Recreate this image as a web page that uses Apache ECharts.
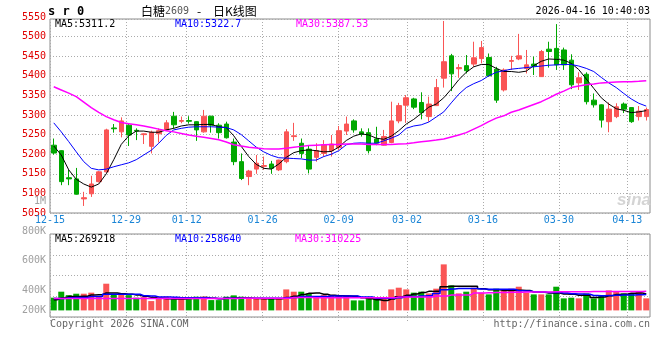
<!DOCTYPE html>
<html><head><meta charset="utf-8">
<script src="https://cdn.jsdelivr.net/npm/echarts@6/dist/echarts.min.js"></script>
<style>html,body{margin:0;padding:0;background:#fff}#c{width:660px;height:360px}</style>
</head><body><div id="c"></div>
<script>
const dates = ['12-15','12-16','12-17','12-18','12-19','12-22','12-23','12-24','12-25','12-26',
 '12-29','12-30','12-31','01-05','01-06','01-07','01-08','01-09','01-12','01-13',
 '01-14','01-15','01-16','01-19','01-20','01-21','01-22','01-23','01-26','01-27',
 '01-28','01-29','01-30','02-02','02-03','02-04','02-05','02-06','02-09','02-10',
 '02-11','02-12','02-13','02-24','02-25','02-26','02-27','03-02','03-03','03-04',
 '03-05','03-06','03-09','03-10','03-11','03-12','03-13','03-16','03-17','03-18',
 '03-19','03-20','03-23','03-24','03-25','03-26','03-27','03-30','03-31','04-01',
 '04-02','04-03','04-07','04-08','04-09','04-10','04-13','04-14','04-15','04-16'];
const tickLabels = ['12-15','12-29','01-12','01-26','02-09','03-02','03-16','03-30','04-13'];
const priceTicks = {min:5050, max:5550, step:50};
const volTickValues = [200000,400000,600000,800000,1000000];
const volTickLabels = ['200K','400K','600K','800K','1M'];

const openP = [5223,5209,5140,5137,5086,5099,5130,5155,5267,5257,
 5274,5261,5250,5220,5252,5262,5297,5284,5286,5283,
 5257,5297,5274,5277,5231,5181,5143,5162,5169,5175,
 5160,5181,5245,5228,5213,5192,5202,5209,5217,5259,
 5285,5257,5255,5239,5223,5230,5285,5325,5341,5332,
 5296,5324,5394,5451,5418,5426,5430,5444,5447,5417,
 5364,5437,5443,5419,5430,5398,5468,5470,5466,5440,
 5382,5404,5338,5326,5283,5296,5328,5319,5296,5296];
const closeP = [5203,5130,5137,5098,5089,5124,5155,5262,5265,5285,
 5249,5259,5252,5256,5260,5280,5275,5286,5284,5262,
 5297,5274,5255,5242,5181,5138,5157,5177,5171,5164,
 5185,5257,5247,5202,5162,5209,5224,5226,5260,5277,
 5262,5251,5209,5228,5245,5285,5324,5344,5320,5306,
 5328,5370,5436,5405,5421,5413,5446,5472,5400,5338,
 5415,5439,5451,5428,5425,5462,5462,5428,5428,5377,
 5395,5334,5326,5287,5315,5321,5315,5283,5310,5314];
const lowP = [5199,5121,5121,5097,5068,5091,5128,5153,5255,5243,
 5221,5236,5226,5202,5230,5261,5266,5279,5278,5234,
 5255,5255,5240,5240,5172,5134,5121,5150,5160,5150,
 5157,5177,5234,5190,5151,5181,5194,5194,5211,5249,
 5255,5245,5202,5223,5222,5228,5279,5280,5315,5289,
 5283,5323,5370,5361,5395,5406,5423,5432,5398,5331,
 5360,5415,5440,5406,5402,5397,5421,5415,5415,5366,
 5364,5327,5319,5268,5256,5292,5305,5280,5286,5286];
const highP = [5240,5210,5160,5165,5104,5145,5157,5265,5277,5294,
 5279,5266,5253,5260,5266,5287,5308,5296,5297,5284,
 5313,5298,5279,5283,5240,5202,5160,5198,5194,5183,
 5186,5264,5280,5240,5221,5228,5236,5249,5272,5296,
 5289,5266,5266,5270,5262,5334,5331,5351,5344,5358,
 5347,5392,5540,5456,5430,5453,5487,5489,5457,5423,
 5419,5451,5507,5466,5449,5466,5487,5532,5472,5455,
 5409,5409,5355,5327,5332,5330,5332,5319,5323,5319];
const volume = [207000,305000,249000,272000,272000,289000,233000,435000,261000,261000,
 249000,207000,217000,152000,196000,223000,196000,196000,196000,223000,
 223000,168000,168000,223000,245000,223000,217000,196000,196000,196000,
 196000,342000,305000,305000,272000,223000,249000,249000,249000,249000,
 163000,163000,196000,196000,196000,342000,370000,342000,289000,305000,
 277000,354000,750000,408000,277000,305000,370000,289000,261000,354000,
 326000,354000,386000,289000,261000,261000,261000,386000,196000,207000,
 196000,277000,196000,249000,326000,305000,277000,277000,305000,196000];
const ma5 = [5221,5198,5160,5136,5124,5116,5124,5150,5186,5225,
 5247,5259,5259,5256,5256,5262,5266,5272,5275,5275,
 5276,5276,5270,5268,5247,5220,5194,5174,5164,5162,
 5175,5192,5204,5209,5211,5209,5206,5207,5218,5235,
 5246,5252,5249,5241,5238,5246,5260,5277,5289,5304,
 5320,5328,5344,5366,5390,5409,5423,5429,5429,5419,
 5411,5411,5409,5412,5426,5437,5443,5442,5440,5432,
 5416,5392,5368,5344,5328,5316,5312,5306,5308,5311.2];
const ma10 = [5280,5257,5232,5206,5181,5164,5160,5162,5168,5173,
 5178,5186,5198,5210,5228,5248,5262,5266,5269,5270,
 5270,5270,5269,5268,5262,5250,5234,5218,5206,5197,
 5191,5190,5189,5188,5185,5185,5194,5200,5209,5224,
 5228,5229,5228,5228,5234,5241,5249,5266,5272,5275,
 5282,5295,5308,5331,5353,5370,5380,5388,5400,5409,
 5413,5417,5419,5421,5423,5425,5427,5428,5429,5429,
 5425,5419,5411,5396,5382,5370,5355,5341,5330,5322.7];
const ma30 = [5372,5364,5356,5347,5333,5319,5307,5296,5288,5281,
 5278,5275,5272,5268,5264,5260,5257,5253,5249,5246,
 5243,5240,5237,5231,5224,5221,5218,5216,5214,5213,
 5213,5215,5218,5220,5222,5223,5224,5225,5225,5226,
 5226,5226,5225,5225,5225,5225,5226,5227,5229,5232,
 5234,5236,5239,5244,5249,5255,5264,5273,5283,5292,
 5298,5307,5313,5320,5327,5334,5343,5353,5361,5370,
 5374,5377,5379,5382,5383,5384,5385,5385,5386,5387.53];
const vma5 = [175000,200000,225000,228000,232000,250000,255000,285000,285000,270000,
 265000,250000,230000,212000,200000,188000,185000,185000,195000,208000,
 210000,198000,188000,198000,202000,204000,198000,192000,188000,188000,
 190000,212000,232000,258000,278000,282000,262000,245000,240000,235000,
 230000,205000,190000,172000,162000,185000,222000,245000,268000,290000,
 310000,312000,385000,392000,392000,392000,392000,352000,335000,335000,
 325000,325000,330000,325000,300000,295000,285000,285000,268000,262000,
 248000,248000,212000,218000,240000,260000,262000,278000,285000,269218];
const vma10 = [192000,192000,208000,210000,212000,225000,228000,262000,262000,262000,
 262000,262000,238000,236000,220000,220000,215000,208000,208000,208000,
 208000,198000,192000,196000,196000,196000,196000,196000,196000,196000,
 196000,207000,210000,225000,225000,225000,225000,236000,236000,236000,
 236000,220000,220000,198000,198000,198000,208000,225000,225000,236000,
 240000,275000,335000,350000,355000,355000,355000,350000,345000,345000,
 345000,345000,320000,316000,305000,300000,292000,290000,285000,272000,
 266000,262000,242000,240000,242000,248000,250000,250000,255000,258640];
const vma30 = [192000,192000,192000,192000,192000,194000,194000,194000,194000,194000,
 194000,194000,194000,194000,194000,194000,194000,194000,194000,194000,
 194000,194000,194000,194000,194000,196000,196000,196000,196000,196000,
 196000,198000,210000,212000,212000,208000,208000,208000,208000,208000,
 208000,208000,208000,208000,208000,208000,218000,218000,218000,218000,
 218000,234000,234000,250000,250000,250000,282000,285000,287000,290000,
 292000,294000,296000,298000,299000,300000,301000,302000,303000,304000,
 305000,305000,306000,306000,307000,307000,308000,308000,309000,310225];

const mono = 'DejaVu Sans Mono';
const upColor = '#fa5555', downColor = '#00a800';
const gridColor = '#ababab', frameColor = '#8c8c8c';
const dot = {color: gridColor, type: [1, 2], width: 1};
const isLabel = (i) => tickLabels.indexOf(dates[i]) >= 0;
const last = (a) => a[a.length - 1];

const kData = dates.map((d, i) => [openP[i], closeP[i], lowP[i], highP[i]]);
const volData = volume.map((v, i) => ({value: v, itemStyle: {color: closeP[i] >= openP[i] ? upColor : downColor}}));

function txt(text, x, y, fill, font, align) {
  return {type: 'text', x: x, y: y, z: 100, silent: true,
    style: {text: text, fill: fill, font: font, align: align || 'left', verticalAlign: 'middle'}};
}

const chart = echarts.init(document.getElementById('c'));
chart.setOption({
  animation: false,
  backgroundColor: '#fff',
  grid: [
    {left: 50, top: 19, width: 600, height: 194, show: true, borderColor: frameColor, borderWidth: 1, backgroundColor: 'transparent'},
    {left: 50, top: 17, width: 600, height: 196, show: false},
    {left: 50, top: 234, width: 600, height: 83, show: true, borderColor: frameColor, borderWidth: 1, backgroundColor: 'transparent'},
    {left: 50, top: 201.4, width: 600, height: 118.4, show: false}
  ],
  xAxis: [
    {type: 'category', gridIndex: 0, data: dates, boundaryGap: true, show: false},
    {type: 'category', gridIndex: 0, data: dates, boundaryGap: false, position: 'bottom',
      axisLine: {show: false}, axisTick: {show: false},
      axisLabel: {interval: (i) => isLabel(i), color: '#1a85d6', fontFamily: mono, fontSize: 10, margin: 2},
      splitLine: {show: true, interval: (i) => isLabel(i), lineStyle: dot}},
    {type: 'category', gridIndex: 1, data: dates, show: false},
    {type: 'category', gridIndex: 2, data: dates, boundaryGap: true, show: false},
    {type: 'category', gridIndex: 2, data: dates, boundaryGap: false, position: 'bottom',
      axisLine: {show: false},
      axisTick: {show: true, interval: (i) => isLabel(i), length: 4, lineStyle: dot},
      axisLabel: {show: false},
      splitLine: {show: true, interval: (i) => isLabel(i), lineStyle: dot}},
    {type: 'category', gridIndex: 3, data: dates, show: false}
  ],
  yAxis: [
    {type: 'value', gridIndex: 0, min: priceTicks.min, max: 5545, interval: priceTicks.step,
      axisLine: {show: false}, axisTick: {show: false}, axisLabel: {show: false},
      splitLine: {show: true, lineStyle: dot}},
    {type: 'value', gridIndex: 1, min: priceTicks.min, max: priceTicks.max, interval: priceTicks.step,
      axisLine: {show: false}, axisTick: {show: false}, splitLine: {show: false},
      axisLabel: {color: '#e00000', fontFamily: mono, fontSize: 10, margin: 4, showMinLabel: true, showMaxLabel: true,
        formatter: (v) => String(v)}},
    {type: 'value', gridIndex: 2, min: -107600, max: 1245000, show: false},
    {type: 'value', gridIndex: 2, min: 0, max: 4, interval: 1,
      axisLine: {show: false}, axisTick: {show: false}, axisLabel: {show: false},
      splitLine: {show: true, lineStyle: dot}},
    {type: 'value', gridIndex: 3, min: volTickValues[0], max: last(volTickValues), interval: volTickValues[1] - volTickValues[0],
      axisLine: {show: false}, axisTick: {show: false}, splitLine: {show: false},
      axisLabel: {margin: 4, showMinLabel: true, showMaxLabel: true,
        formatter: (v) => {
          const k = volTickValues.indexOf(v);
          const t = k >= 0 ? volTickLabels[k] : '';
          return k === 0 ? '{s|' + t + '}' : '{n|' + t + '}';
        },
        rich: {
          s: {color: '#a0a0a0', fontFamily: mono, fontSize: 10, padding: [0, 0, 19, 0]},
          n: {color: '#a0a0a0', fontFamily: mono, fontSize: 10}
        }}}
  ],
  series: [
    {type: 'candlestick', xAxisIndex: 0, yAxisIndex: 0, data: kData, barWidth: 5,
      itemStyle: {color: upColor, color0: downColor, borderColor: upColor, borderColor0: downColor, borderWidth: 1}},
    {type: 'line', xAxisIndex: 0, yAxisIndex: 0, data: ma5, symbol: 'none', lineStyle: {color: '#000', width: 1}},
    {type: 'line', xAxisIndex: 0, yAxisIndex: 0, data: ma10, symbol: 'none', lineStyle: {color: '#0000ff', width: 1}},
    {type: 'line', xAxisIndex: 0, yAxisIndex: 0, data: ma30, symbol: 'none', lineStyle: {color: '#ff00ff', width: 1.5}},
    {type: 'bar', xAxisIndex: 3, yAxisIndex: 2, data: volData, barWidth: 6},
    {type: 'line', xAxisIndex: 3, yAxisIndex: 2, data: vma5, step: 'middle', symbol: 'none', lineStyle: {color: '#000', width: 1.5}},
    {type: 'line', xAxisIndex: 3, yAxisIndex: 2, data: vma10, step: 'middle', symbol: 'none', lineStyle: {color: '#0000ff', width: 1.5}},
    {type: 'line', xAxisIndex: 3, yAxisIndex: 2, data: vma30, step: 'middle', symbol: 'none', lineStyle: {color: '#ff00ff', width: 1.5}}
  ],
  graphic: [
    txt('s r 0', 48, 12, '#000', 'bold 12px "DejaVu Sans Mono"'),
    txt('白糖', 141, 11, '#000', '12px "Noto Sans CJK SC"'),
    txt('2609', 165, 11, '#555', '10px "DejaVu Sans Mono"'),
    txt('-', 197, 11, '#000', '12px "Noto Sans CJK SC"'),
    txt('日K线图', 213, 11, '#000', '12px "Noto Sans CJK SC"'),
    txt('2026-04-16 10:40:03', 650, 11, '#000', '10px "DejaVu Sans Mono"', 'right'),
    txt('MA5:' + last(ma5), 55, 24, '#000', '10px "DejaVu Sans Mono"'),
    txt('MA10:' + last(ma10), 175, 24, '#0000ff', '10px "DejaVu Sans Mono"'),
    txt('MA30:' + last(ma30), 296, 24, '#ff00ff', '10px "DejaVu Sans Mono"'),
    txt('MA5:' + last(vma5), 55, 239, '#000', '10px "DejaVu Sans Mono"'),
    txt('MA10:' + last(vma10), 175, 239, '#0000ff', '10px "DejaVu Sans Mono"'),
    txt('MA30:' + last(vma30), 295, 239, '#ff00ff', '10px "DejaVu Sans Mono"'),
    txt('Copyright 2026 SINA.COM', 50, 324, '#666', '10px "DejaVu Sans Mono"'),
    txt('http://finance.sina.com.cn', 650, 324, '#666', '10px "DejaVu Sans Mono"', 'right'),
    txt('sina', 617, 200, '#d4d4d4', 'italic bold 17px "Liberation Sans"')
  ]
});
</script></body></html>
